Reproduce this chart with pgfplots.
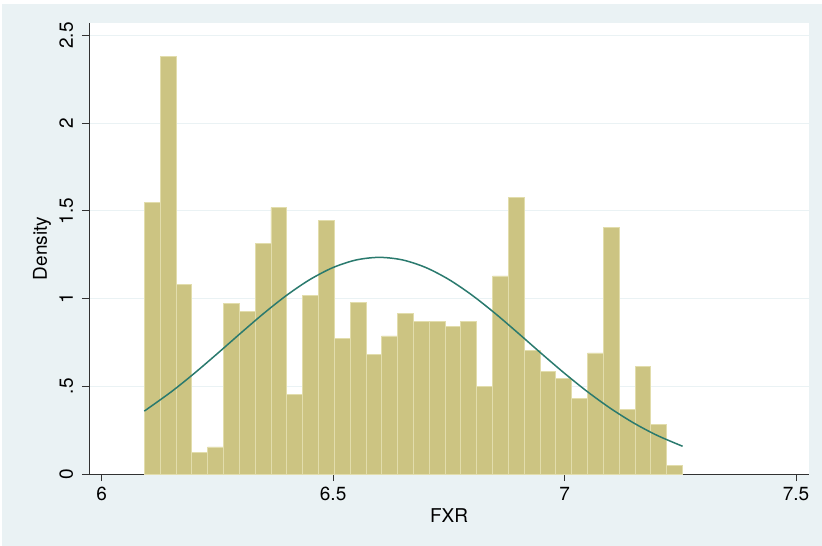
\documentclass[border=0pt]{standalone}
\usepackage{fontspec}
\setmainfont{TeX Gyre Heros}
\usepackage{pgfplots}
\pgfplotsset{compat=1.18}

\definecolor{stbg}{RGB}{234,242,244}
\definecolor{stgrid}{RGB}{234,242,244}
\definecolor{barfill}{RGB}{204,196,130}
\definecolor{baredge}{RGB}{226,221,172}
\definecolor{curve}{RGB}{42,122,110}
\definecolor{axisgray}{RGB}{50,50,50}

\begin{document}
\begin{tikzpicture}
% page and Stata-style background
\fill[white] (-89pt,-72pt) rectangle (733pt,474pt);
\fill[stbg] (-87pt,-72pt) rectangle (733pt,470pt);
\begin{axis}[
  at={(0,0)}, anchor=south west,
  scale only axis,
  width=720pt, height=451pt,
  xmin=5.9726, xmax=7.528,
  ymin=0, ymax=2.571,
  axis background/.style={fill=white},
  axis lines*=left,
  axis line style={-, draw=axisgray, line width=0.8pt},
  tick align=outside,
  major tick length=7pt,
  tick style={draw=axisgray, line width=0.8pt},
  xtick={6,6.5,7,7.5},
  xticklabels={6,6.5,7,7.5},
  ytick={0,0.5,1,1.5,2,2.5},
  yticklabels={0,.5,1,1.5,2,2.5},
  ymajorgrids,
  major grid style={draw=stgrid, line width=1pt},
  /pgf/number format/assume math mode=true,
  tick label style={font=\fontsize{19}{22}\selectfont},
  xticklabel style={anchor=base, yshift=-19pt},
  yticklabel style={rotate=90, anchor=base, yshift=9pt},
  label style={font=\fontsize{19}{22}\selectfont},
  xlabel={FXR},
  ylabel={Density},
  xlabel style={at={(rel axis cs:0.5,0)}, anchor=base, yshift=-48.7pt},
  every axis y label/.style={at={(rel axis cs:0,0.5)}, rotate=90, anchor=center,
    yshift=47pt, font=\fontsize{19}{22}\selectfont},
  clip=false,
]
\addplot[ybar interval, fill=barfill, draw=baredge, line width=0.8pt] coordinates {
  (6.0920,1.547) (6.1262,2.379) (6.1604,1.082) (6.1946,0.125) (6.2288,0.154)
  (6.2630,0.971) (6.2972,0.929) (6.3314,1.315) (6.3656,1.518) (6.3998,0.456)
  (6.4340,1.019) (6.4682,1.444) (6.5024,0.774) (6.5366,0.979) (6.5708,0.682)
  (6.6050,0.787) (6.6392,0.916) (6.6734,0.868) (6.7076,0.868) (6.7418,0.840)
  (6.7760,0.868) (6.8102,0.498) (6.8444,1.129) (6.8786,1.575) (6.9128,0.703)
  (6.9470,0.587) (6.9812,0.545) (7.0154,0.431) (7.0496,0.690) (7.0838,1.404)
  (7.1180,0.369) (7.1522,0.614) (7.1864,0.283) (7.2206,0.051) (7.2548,0.051)
};
\addplot[smooth, draw=curve, line width=1.5pt] coordinates {
  (6.092,0.3585) (6.15,0.4679) (6.20,0.5737) (6.25,0.6866) (6.30,0.8023)
  (6.35,0.9154) (6.40,1.0196) (6.45,1.1088) (6.50,1.1772) (6.55,1.2203)
  (6.60,1.2350) (6.65,1.2203) (6.70,1.1772) (6.75,1.1088) (6.80,1.0196)
  (6.85,0.9154) (6.90,0.8023) (6.95,0.6866) (7.00,0.5737) (7.05,0.4679)
  (7.10,0.3727) (7.15,0.2897) (7.20,0.2200) (7.255,0.1580)
};
\end{axis}
\end{tikzpicture}
\end{document}
